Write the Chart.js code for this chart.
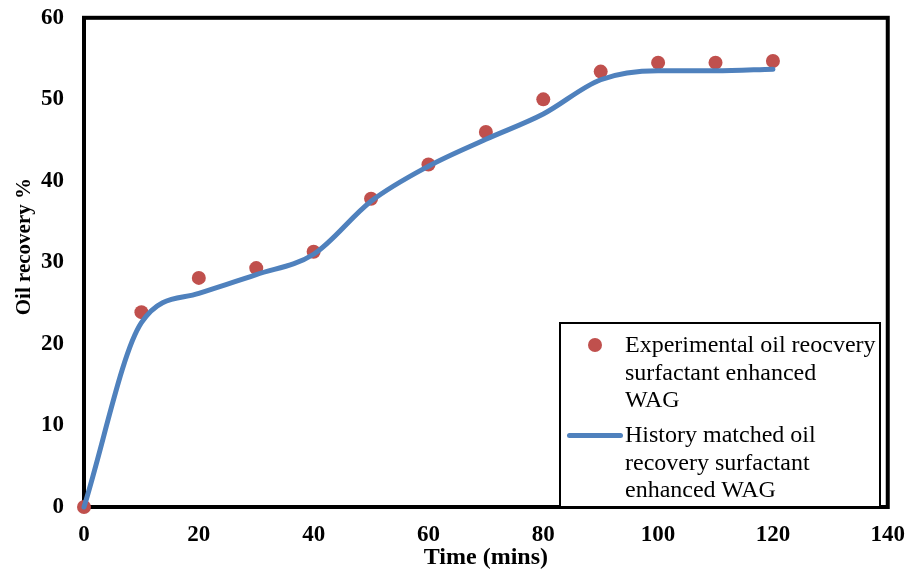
<!DOCTYPE html>
<html><head><meta charset="utf-8">
<script src="https://cdn.jsdelivr.net/npm/chart.js@4"></script>
<style>
html,body{margin:0;padding:0;background:#fff;overflow:hidden;}
#wrap{position:relative;width:906px;height:572px;overflow:hidden;}
#c{position:absolute;left:0;top:-16px;}
#legend{position:absolute;left:559px;top:322px;width:322px;height:186px;border:2px solid #000;background:#fff;font-family:"Liberation Serif","Times New Roman",serif;font-size:24px;line-height:27.5px;color:#000;box-sizing:border-box;}
.item{position:absolute;left:64px;width:260px;white-space:nowrap;}
.dot{position:absolute;left:27px;top:14px;width:14px;height:14px;border-radius:50%;background:#C0504D;}
.ln{position:absolute;left:6px;width:56px;height:5px;border-radius:3px;background:#4F81BD;}
</style></head><body>
<div id="wrap"><canvas id="c" width="919" height="588"></canvas>
<div id="legend">
<div class="dot"></div>
<div class="item" style="top:7px;">Experimental oil reocvery<br>surfactant enhanced<br>WAG</div>
<div class="ln" style="top:109px;"></div>
<div class="item" style="top:97px;">History matched oil<br>recovery surfactant<br>enhanced WAG</div>
</div></div>
<script>
const timeMins = [0,10,20,30,40,50,60,70,80,90,100,110,120];
const experimental = [0,23.9,28.1,29.3,31.3,37.8,42.0,46.0,50.0,53.4,54.5,54.5,54.7];
const historyMatched = [0,22.6,26.2,28.5,31.0,37.5,41.8,45.1,48.2,52.4,53.5,53.5,53.7];
const xTicks = [0,20,40,60,80,100,120,140];
const yTicks = [0,10,20,30,40,50,60];

const tickFont = {family:"'Liberation Serif','Times New Roman',serif", size:23, weight:'bold'};
const xTitleFont = {family:"'Liberation Serif','Times New Roman',serif", size:24, weight:'bold'};
const yTitleFont = {family:"'Liberation Serif','Times New Roman',serif", size:21, weight:'bold'};
const borderUnder = {id:'borderUnder', beforeDatasetsDraw(ch){const a=ch.chartArea,c=ch.ctx;c.save();c.strokeStyle='#000';c.lineWidth=4;c.strokeRect(a.left,a.top,a.right-a.left,a.bottom-a.top);c.restore();}};

new Chart(document.getElementById('c'), {
  type:'line',
  data:{datasets:[
    {label:'Experimental oil reocvery surfactant enhanced WAG', data:timeMins.map((t,i)=>({x:t,y:experimental[i]})), showLine:false, pointRadius:7, pointBackgroundColor:'#C0504D', pointBorderColor:'#C0504D', pointBorderWidth:0, order:2, clip:false},
    {label:'History matched oil recovery surfactant enhanced WAG', data:timeMins.map((t,i)=>({x:t,y:historyMatched[i]})), borderColor:'#4F81BD', borderWidth:5, pointRadius:0, cubicInterpolationMode:'monotone', fill:false, borderCapStyle:'round', order:1, clip:false}
  ]},
  options:{
    responsive:false, animation:false,
    layout:{padding:{top:0,right:0,left:0,bottom:0}},
    plugins:{legend:{display:false}, tooltip:{enabled:false}},
    scales:{
      x:{type:'linear', min:0, max:140, afterBuildTicks(s){s.ticks=xTicks.map(v=>({value:v}));},
        grid:{display:false, drawTicks:false}, border:{display:false},
        ticks:{font:tickFont, color:'#000', padding:14, maxRotation:0},
        title:{display:true, text:'Time (mins)', font:xTitleFont, color:'#000', padding:{top:0,bottom:0}},
        afterFit(s){s.height=65;}},
      y:{min:0, max:60, afterBuildTicks(s){s.ticks=yTicks.map(v=>({value:v}));},
        grid:{display:false, drawTicks:false}, border:{display:false},
        ticks:{font:tickFont, color:'#000', padding:20},
        title:{display:true, text:'      Oil recovery %', font:yTitleFont, color:'#000', padding:{top:12,bottom:0}},
        afterFit(s){s.width=84;}}
    }
  },
  plugins:[borderUnder]
});
</script></body></html>
